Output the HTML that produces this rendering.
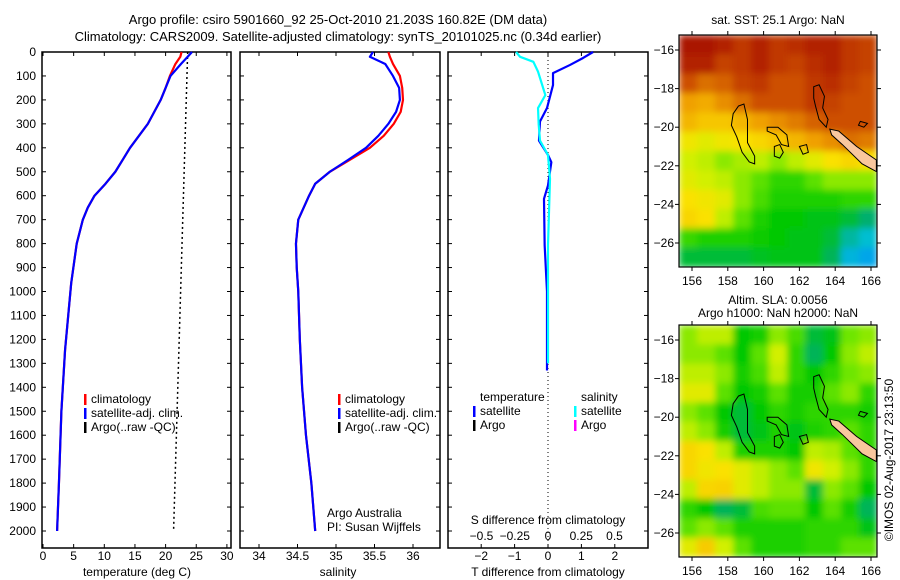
<!DOCTYPE html>
<html><head><meta charset="utf-8">
<style>
body{margin:0;background:#fff;}
svg{display:block;font-family:"Liberation Sans",sans-serif;font-size:12px;}
</style></head>
<body>
<svg id="fig" width="900" height="580" xmlns="http://www.w3.org/2000/svg">
<defs>
<filter id="blur" x="-5%" y="-5%" width="110%" height="110%"><feGaussianBlur stdDeviation="3.5" edgeMode="duplicate"/></filter>
<clipPath id="clip1"><rect x="679" y="35" width="198" height="232"/></clipPath>
<clipPath id="clip2"><rect x="679" y="325" width="198" height="232"/></clipPath>
</defs>
<text x="338" y="24" text-anchor="middle" font-size="13">Argo profile: csiro 5901660_92 25-Oct-2010 21.203S 160.82E (DM data)</text>
<text x="338" y="41" text-anchor="middle" font-size="13">Climatology: CARS2009. Satellite-adjusted climatology: synTS_20101025.nc (0.34d earlier)</text>
<g id="g"></g>
</svg>
<script>
// ---- data ----
const depths = [0,20,50,100,150,200,300,400,450,500,550,600,650,700,800,965,1244,1500,1800,2000];
const tempClim = [22.6,22.4,21.6,20.7,20.0,19.2,17.1,14.2,13.0,11.8,10.2,8.4,7.3,6.5,5.5,4.6,3.6,3.0,2.6,2.3];
const tempSat  = [24.3,23.6,22.5,20.8,20.0,19.2,17.1,14.2,13.0,11.8,10.2,8.4,7.3,6.5,5.5,4.6,3.6,3.0,2.6,2.3];
const argoDepths = [0,2000];
const argoTemp = [23.6,21.3];
const salDepths = [0,20,50,100,150,200,250,300,350,400,450,500,550,600,700,800,900,1000,1200,1400,1600,1800,2000];
const salClim = [35.68,35.70,35.74,35.83,35.86,35.87,35.84,35.75,35.62,35.44,35.18,34.92,34.73,34.65,34.51,34.48,34.49,34.51,34.53,34.56,34.61,34.68,34.73];
const salSat  = [35.48,35.44,35.64,35.74,35.82,35.83,35.78,35.68,35.55,35.39,35.16,34.92,34.73,34.65,34.51,34.48,34.49,34.51,34.53,34.56,34.61,34.68,34.73];
const tDiffDepths = [0,25,54,88,138,234,290,370,430,460,557,613,807,1000,1330];
const tDiff = [1.35,1.05,0.66,0.15,0.15,-0.03,-0.24,-0.27,0.0,0.1,0.0,-0.12,-0.1,-0.03,-0.03];
const sDiffDepths = [0,20,41,82,180,234,303,370,430,529,807,1000,1300];
const sDiff = [-0.24,-0.21,-0.11,-0.075,-0.02,-0.075,-0.07,-0.06,0.0,0.015,0.0,0.0,0.0];
const depthTicks = [0,100,200,300,400,500,600,700,800,900,1000,1100,1200,1300,1400,1500,1600,1700,1800,1900,2000];
const tTicks = [0,5,10,15,20,25,30];
const sTicks = [34,34.5,35,35.5,36];
const tdTicks = [-2,-1,0,1,2];
const sdTicks = [-0.5,-0.25,0,0.25,0.5];
const lonTicks = [156,158,160,162,164,166];
const latTicks = [-16,-18,-20,-22,-24,-26];
const sstGrid = [
[.98,.98,.95,.9,.95,.9,.92,.95,.95,.9,.88],
[.95,.95,.88,.9,.95,.9,.88,.92,.95,.9,.88],
[.85,.8,.82,.88,.9,.85,.85,.9,.92,.88,.85],
[.72,.7,.75,.8,.85,.85,.85,.9,.88,.85,.85],
[.68,.65,.65,.68,.72,.75,.78,.82,.85,.85,.85],
[.58,.55,.58,.6,.62,.65,.68,.72,.75,.8,.78],
[.52,.5,.45,.48,.5,.45,.5,.55,.6,.62,.6],
[.55,.52,.5,.45,.4,.35,.35,.4,.45,.45,.45],
[.6,.58,.55,.45,.38,.33,.33,.33,.33,.35,.35],
[.62,.6,.5,.4,.33,.3,.3,.28,.28,.25,.2],
[.36,.33,.33,.33,.31,.3,.28,.28,.25,.15,.1],
[.25,.25,.25,.25,.27,.28,.28,.28,.22,.08,.05]];
const slaGrid = [
[.45,.5,.5,.3,.32,.45,.38,.25,.28,.42,.45],
[.45,.45,.4,.3,.4,.52,.35,.22,.3,.45,.5],
[.5,.5,.45,.32,.38,.5,.35,.3,.35,.42,.45],
[.55,.55,.4,.3,.32,.4,.32,.32,.4,.45,.35],
[.45,.4,.3,.25,.3,.35,.32,.35,.35,.35,.32],
[.5,.45,.32,.25,.28,.33,.28,.33,.35,.4,.35],
[.62,.6,.5,.33,.33,.33,.3,.5,.48,.4,.35],
[.62,.58,.6,.55,.5,.45,.4,.58,.52,.45,.35],
[.5,.62,.63,.55,.5,.45,.45,.25,.45,.4,.3],
[.35,.3,.22,.25,.38,.4,.4,.3,.4,.32,.22],
[.4,.45,.4,.33,.33,.33,.33,.35,.35,.35,.28],
[.55,.64,.52,.4,.33,.33,.33,.35,.35,.4,.4]];

// ---- helpers ----
const NS="http://www.w3.org/2000/svg";
const G=document.getElementById('g');
function el(t,a,p){const e=document.createElementNS(NS,t);for(const k in a)e.setAttribute(k,a[k]);(p||G).appendChild(e);return e;}
function txt(x,y,s,anchor,p){const e=el('text',{x:x,y:y,'text-anchor':anchor||'middle'},p);e.textContent=s;return e;}
const TOP=52, BOT=548;
const yD=d=>TOP+d*0.2395;
const xT=v=>43+v*6.13;
const xS=v=>259+(v-34)*77;
const xTD=v=>548+v*33.4;
const xSD=v=>548+v*133;

function panel(x0,x1,name){
  const r=el('rect',{x:x0,y:TOP,width:x1-x0,height:BOT-TOP,fill:'none',stroke:'#000','stroke-width':1.5});
  
  
  depthTicks.forEach(d=>{el('line',{x1:x0,x2:x0+4,y1:yD(d),y2:yD(d),stroke:'#000'});el('line',{x1:x1-4,x2:x1,y1:yD(d),y2:yD(d),stroke:'#000'});});
}
function line(xs,ds,fx,color,name,dash){
  const p=el('polyline',{points:xs.map((v,i)=>fx(v)+','+yD(ds[i])).join(' '),fill:'none',stroke:color,'stroke-width':2.2,'stroke-linejoin':'round'});
  if(dash){p.setAttribute('stroke-dasharray',dash);p.setAttribute('stroke-width',1.5);}
  
  
}
function legend(x,y,items){
  items.forEach((it,i)=>{
    el('rect',{x:x,y:y+i*14-9,width:2.5,height:11,fill:it[1]});
    const t=txt(x+7,y+i*14,it[0],'start');
    
    
  });
}

depthTicks.forEach(d=>{const t=txt(36,yD(d)+4,String(d),'end');});

// panel 1 temperature
panel(42,231,'temperature-panel');
tTicks.forEach(v=>{el('line',{x1:xT(v),x2:xT(v),y1:BOT,y2:BOT-4,stroke:'#000'});el('line',{x1:xT(v),x2:xT(v),y1:TOP,y2:TOP+4,stroke:'#000'});txt(xT(v),560,String(v));});
txt(137,576,'temperature (deg C)');
line(argoTemp,argoDepths,xT,'#000','argo-temp-line','2,3');
line(tempClim,depths,xT,'#f00','temp-climatology-line');
line(tempSat,depths,xT,'#00f','temp-satellite-line');
legend(84,403,[['climatology','#f00'],['satellite-adj. clim.','#00f'],['Argo(..raw -QC)','#000']]);

// panel 2 salinity
panel(240,440,'salinity-panel');
sTicks.forEach(v=>{el('line',{x1:xS(v),x2:xS(v),y1:BOT,y2:BOT-4,stroke:'#000'});el('line',{x1:xS(v),x2:xS(v),y1:TOP,y2:TOP+4,stroke:'#000'});txt(xS(v),560,String(v));});
txt(338,576,'salinity');
line(salClim,salDepths,xS,'#f00','sal-climatology-line');
line(salSat,salDepths,xS,'#00f','sal-satellite-line');
legend(338,403,[['climatology','#f00'],['satellite-adj. clim.','#00f'],['Argo(..raw -QC)','#000']]);
txt(327,517,'Argo Australia','start');
txt(327,531,'PI: Susan Wijffels','start');

// panel 3 differences
panel(448,648,'difference-panel');
el('line',{x1:548,x2:548,y1:TOP,y2:BOT,stroke:'#000','stroke-dasharray':'1,3'});
tdTicks.forEach(v=>{el('line',{x1:xTD(v),x2:xTD(v),y1:BOT,y2:BOT-4,stroke:'#000'});el('line',{x1:xTD(v),x2:xTD(v),y1:TOP,y2:TOP+4,stroke:'#000'});txt(xTD(v),560,String(v).replace('-','\u2212'));});
sdTicks.forEach(v=>{txt(xSD(v),540,String(v).replace('-','\u2212'));});
txt(548,524,'S difference from climatology');
txt(548,576,'T difference from climatology');
line(tDiff,tDiffDepths,xTD,'#00f','t-diff-satellite-line');
line(sDiff,sDiffDepths,xSD,'#0ff','s-diff-satellite-line');
txt(480,401,'temperature','start');
txt(581,401,'salinity','start');
legend(473,415,[['satellite','#00f'],['Argo','#000']]);
legend(574,415,[['satellite','#0ff'],['Argo','#f0f']]);

// ---- maps ----
const stops=[[0,[0,140,255]],[.1,[0,190,210]],[.2,[0,175,110]],[.3,[0,200,0]],[.42,[110,230,0]],[.52,[210,240,0]],[.6,[250,225,0]],[.72,[240,160,0]],[.85,[205,80,0]],[1,[165,10,0]]];
function cmap(v){for(let i=1;i<stops.length;i++){if(v<=stops[i][0]){const a=stops[i-1],b=stops[i],t=(v-a[0])/(b[0]-a[0]);return 'rgb('+a[1].map((c,k)=>Math.round(c+(b[1][k]-c)*t)).join(',')+')';}}return 'rgb(165,10,0)';}
function map(y0,y1,grid,name,clip){
  const x0=679,x1=877;
  const lonX=l=>692+(l-156)*17.9;
  const latY=la=>y0+15+(-la-16)*19.3;
  const g=el('g',{});
  
  
  const cg=el('g',{'clip-path':'url(#'+clip+')'},g);
  const bg=el('g',{filter:'url(#blur)'},cg);
  const rows=grid.length, cols=grid[0].length, cw=(x1-x0)/cols, ch=(y1-y0)/rows;
  grid.forEach((row,r)=>row.forEach((v,c)=>{el('rect',{x:x0+c*cw,y:y0+r*ch,width:cw+0.5,height:ch+0.5,fill:cmap(v)},bg);}));
  el('polygon',{points:[[163.7,-20.1],[164.2,-20.2],[165.2,-21.0],[166.3,-21.7],[166.3,-22.3],[165.5,-21.9],[164.4,-20.9],[163.8,-20.4]].map(p=>lonX(p[0])+','+latY(p[1])).join(' '),fill:'#f9c79e',stroke:'#000','stroke-width':1},g);
  const cont=[[[158.6,-18.9],[158.9,-18.8],[159.1,-19.6],[159.1,-20.8],[159.5,-21.5],[159.5,-21.9],[159.2,-21.8],[158.8,-21.3],[158.5,-20.5],[158.2,-19.9],[158.3,-19.3]],
   [[162.8,-17.9],[163.1,-17.8],[163.4,-18.4],[163.3,-19.0],[163.6,-19.6],[163.5,-20.0],[163.1,-19.6],[162.9,-18.9],[162.8,-18.5]],
   [[160.2,-20.0],[160.8,-20.0],[161.3,-20.4],[161.4,-21.0],[161.0,-20.9],[160.7,-20.4],[160.2,-20.2]],
   [[160.6,-21.0],[160.9,-20.9],[161.1,-21.3],[160.9,-21.6],[160.6,-21.5]],
   [[162.0,-21.0],[162.4,-20.9],[162.5,-21.3],[162.2,-21.4]],
   [[165.4,-19.7],[165.8,-19.8],[165.6,-20.0],[165.3,-19.9]]];
  cont.forEach(c=>el('polygon',{points:c.map(p=>lonX(p[0])+','+latY(p[1])).join(' '),fill:'none',stroke:'#000','stroke-width':1},g));
  el('rect',{x:x0,y:y0,width:x1-x0,height:y1-y0,fill:'none',stroke:'#000','stroke-width':1.2},g);
  lonTicks.forEach(l=>{el('line',{x1:lonX(l),x2:lonX(l),y1:y1,y2:y1+4,stroke:'#000'},g);el('line',{x1:lonX(l),x2:lonX(l),y1:y0,y2:y0-4,stroke:'#000'},g);txt(lonX(l),y1+18,String(l),'middle',g);});
  latTicks.forEach(la=>{el('line',{x1:x0-4,x2:x0,y1:latY(la),y2:latY(la),stroke:'#000'},g);el('line',{x1:x1,x2:x1+4,y1:latY(la),y2:latY(la),stroke:'#000'},g);txt(x0-5,latY(la)+4,String(la).replace('-','\u2212'),'end',g);});
}
map(35,267,sstGrid,'sst-map','clip1');
map(325,557,slaGrid,'sla-map','clip2');
txt(778,24,'sat. SST: 25.1 Argo: NaN');
txt(778,304,'Altim. SLA: 0.0056');
txt(778,317,'Argo h1000: NaN h2000: NaN');
const c=txt(893,460,'\u00a9IMOS 02-Aug-2017 23:13:50');
c.setAttribute('transform','rotate(-90 893 460)');
</script>
</body></html>
